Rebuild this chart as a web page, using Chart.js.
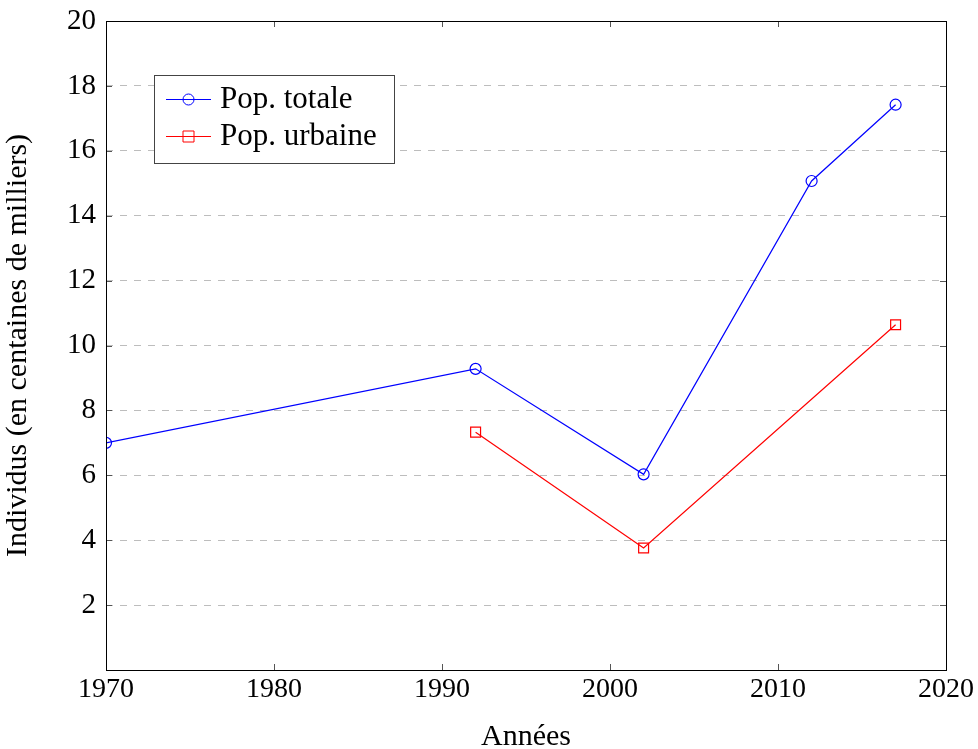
<!DOCTYPE html>
<html>
<head>
<meta charset="utf-8">
<script src="https://cdn.jsdelivr.net/npm/chart.js@4.4.1/dist/chart.umd.min.js"></script>
<style>
  html, body { margin: 0; padding: 0; background: #fff; }
  #wrap { width: 978px; height: 749px; }
</style>
</head>
<body>
<div id="wrap"><canvas id="c" width="978" height="749"></canvas></div>
<script>
// data
const yearsTotale = [1970, 1992, 2002, 2012, 2017];
const popTotale = [7.0, 9.28, 6.03, 15.07, 17.42];
const yearsUrbaine = [1992, 2002, 2017];
const popUrbaine = [7.33, 3.76, 10.64];
const xTicks = [1970, 1980, 1990, 2000, 2010, 2020];
const yTicks = [2, 4, 6, 8, 10, 12, 14, 16, 18, 20];

const FONT = "'Liberation Serif', 'DejaVu Serif', serif";

const toPoints = (xs, ys) => xs.map((x, i) => ({ x, y: ys[i] }));

// frame, inside tick marks and legend box (pgfplots style)
const framePlugin = {
  id: "frame",
  afterDraw(chart) {
    const { ctx, chartArea: a, scales } = chart;
    ctx.save();
    ctx.strokeStyle = "#555";
    ctx.lineWidth = 1;
    yTicks.forEach((v) => {
      const y = Math.round(scales.y.getPixelForValue(v)) + 0.5;
      ctx.beginPath();
      ctx.moveTo(a.left, y); ctx.lineTo(a.left + 6, y);
      ctx.moveTo(a.right, y); ctx.lineTo(a.right - 6, y);
      ctx.stroke();
    });
    xTicks.forEach((v) => {
      const x = Math.round(scales.x.getPixelForValue(v)) + 0.5;
      ctx.beginPath();
      ctx.moveTo(x, a.bottom); ctx.lineTo(x, a.bottom - 6);
      ctx.moveTo(x, a.top); ctx.lineTo(x, a.top + 6);
      ctx.stroke();
    });
    ctx.strokeStyle = "#000";
    ctx.strokeRect(Math.round(a.left) + 0.5, Math.round(a.top) + 0.5,
      Math.round(a.right - a.left), Math.round(a.bottom - a.top));

    // legend
    const lx = 154, ly = 75, lw = 240, lh = 88;
    ctx.fillStyle = "#fff";
    ctx.fillRect(lx, ly, lw, lh);
    ctx.strokeStyle = "#444";
    ctx.strokeRect(lx + 0.5, ly + 0.5, lw, lh);
    const rows = [
      { label: "Pop. totale", color: "#0000ff", shape: "circle", y: 99 },
      { label: "Pop. urbaine", color: "#ff0000", shape: "square", y: 136 }
    ];
    rows.forEach((r) => {
      ctx.strokeStyle = r.color;
      ctx.beginPath();
      ctx.moveTo(166, r.y + 0.5); ctx.lineTo(211, r.y + 0.5);
      ctx.stroke();
      ctx.fillStyle = "#fff";
      ctx.beginPath();
      if (r.shape === "circle") ctx.arc(188.5, r.y + 0.5, 5.5, 0, Math.PI * 2);
      else ctx.rect(183, r.y - 5, 11, 11);
      ctx.fill();
      ctx.stroke();
      ctx.beginPath();
      ctx.moveTo(183, r.y + 0.5); ctx.lineTo(194, r.y + 0.5);
      ctx.stroke();
      ctx.fillStyle = "#000";
      ctx.font = "31px " + FONT;
      ctx.textBaseline = "middle";
      ctx.fillText(r.label, 220, r.y + 1);
    });
    ctx.restore();
  }
};

new Chart(document.getElementById("c"), {
  type: "line",
  data: {
    datasets: [
      {
        label: "Pop. totale",
        data: toPoints(yearsTotale, popTotale),
        borderColor: "#0000ff",
        backgroundColor: "rgba(0,0,0,0)",
        borderWidth: 1.2,
        pointStyle: "circle",
        pointRadius: 5.5,
        pointBorderWidth: 1.2,
        pointBorderColor: "#0000ff",
        pointBackgroundColor: "rgba(0,0,0,0)",
        tension: 0
      },
      {
        label: "Pop. urbaine",
        data: toPoints(yearsUrbaine, popUrbaine),
        borderColor: "#ff0000",
        backgroundColor: "rgba(0,0,0,0)",
        borderWidth: 1.2,
        pointStyle: "rect",
        pointRadius: 7,
        pointBorderWidth: 1.2,
        pointBorderColor: "#ff0000",
        pointBackgroundColor: "rgba(0,0,0,0)",
        tension: 0
      }
    ]
  },
  options: {
    responsive: false,
    animation: false,
    layout: { padding: { top: 21, right: 32, left: 0, bottom: 0 } },
    plugins: { legend: { display: false }, tooltip: { enabled: false } },
    scales: {
      x: {
        type: "linear",
        min: 1970,
        max: 2020,
        afterBuildTicks: (s) => { s.ticks = xTicks.map((v) => ({ value: v })); },
        afterFit: (s) => { s.height = 79; s.paddingLeft = 0; s.paddingRight = 0; },
        grid: { display: false, drawTicks: false },
        border: { display: false },
        ticks: {
          color: "#000",
          font: { family: FONT, size: 28 },
          padding: 3,
          maxRotation: 0,
          callback: (v) => String(v)
        },
        title: {
          display: true,
          text: "Années",
          color: "#000",
          font: { family: FONT, size: 30, lineHeight: 0.8 },
          padding: { top: 12, bottom: 0 }
        }
      },
      y: {
        min: 0,
        max: 20,
        afterBuildTicks: (s) => { s.ticks = [0].concat(yTicks).map((v) => ({ value: v })); },
        afterFit: (s) => { s.width = 106; s.paddingTop = 0; s.paddingBottom = 0; },
        grid: {
          drawTicks: false,
          color: (c) => (c.tick && c.tick.value === 0 ? "rgba(0,0,0,0)" : "#bdbdbd"),
          lineWidth: 1
        },
        border: { display: false, dash: [7, 7] },
        ticks: {
          color: "#000",
          font: { family: FONT, size: 29 },
          padding: 10,
          callback: (v) => (v === 0 ? "" : v)
        },
        title: {
          display: true,
          text: "Individus (en centaines de milliers)",
          color: "#000",
          font: { family: FONT, size: 30 },
          padding: { top: 0, bottom: 6 }
        }
      }
    }
  },
  plugins: [framePlugin]
});
</script>
</body>
</html>
